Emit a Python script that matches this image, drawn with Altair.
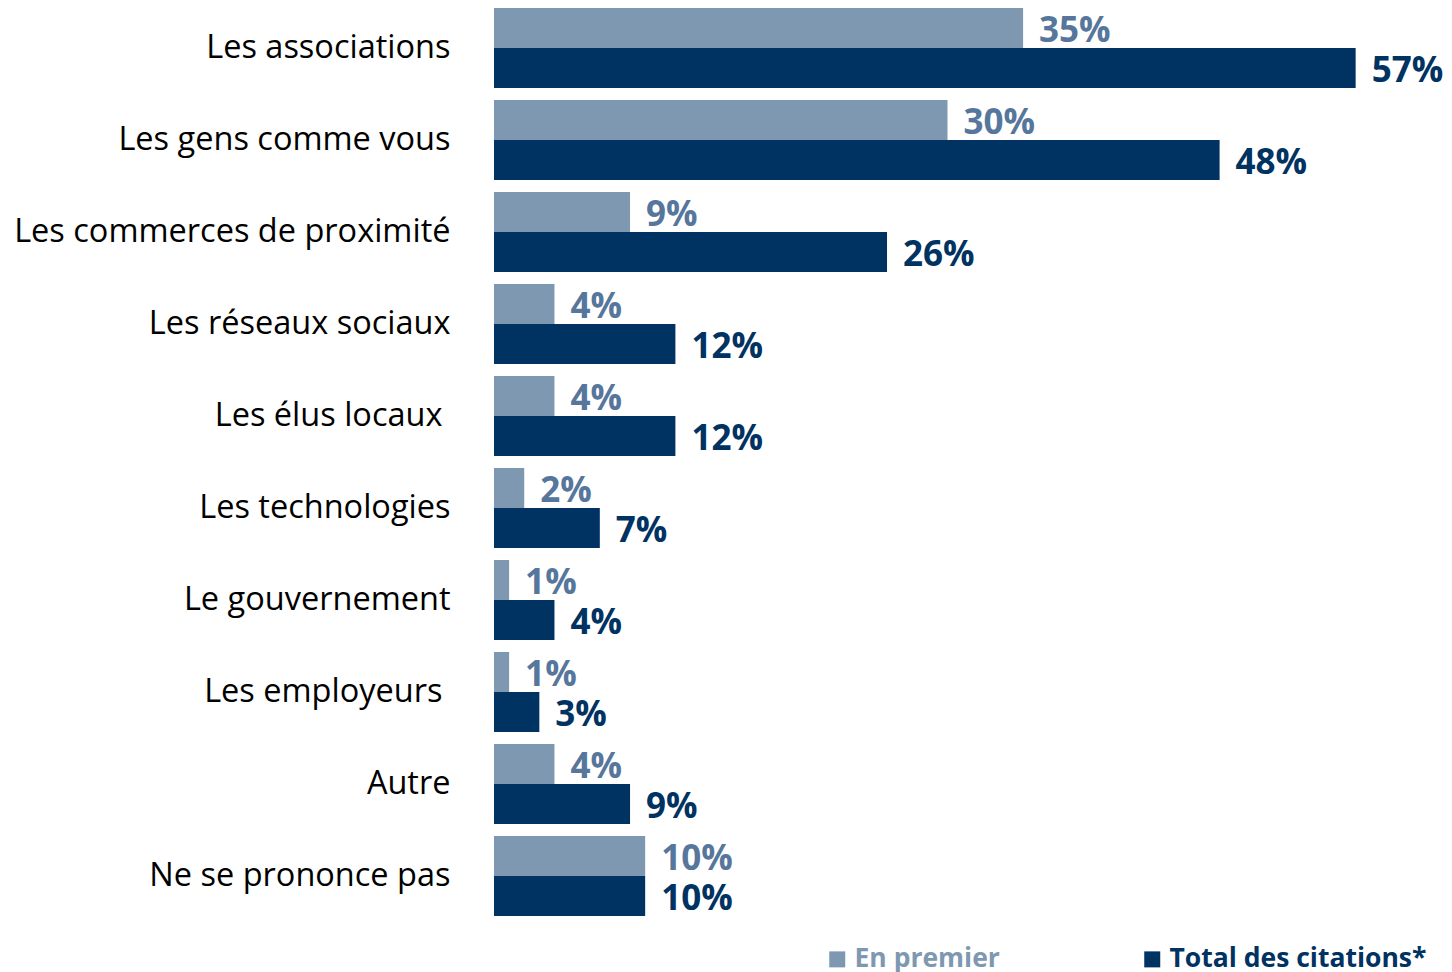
import altair as alt
import pandas as pd

categories = [
    "Les associations",
    "Les gens comme vous",
    "Les commerces de proximité",
    "Les réseaux sociaux",
    "Les élus locaux ",
    "Les technologies",
    "Le gouvernement",
    "Les employeurs ",
    "Autre",
    "Ne se prononce pas",
]
en_premier = [35, 30, 9, 4, 4, 2, 1, 1, 4, 10]
total_citations = [57, 48, 26, 12, 12, 7, 4, 3, 9, 10]
series = ["En premier", "Total des citations*"]

rows = []
for c, a, b in zip(categories, en_premier, total_citations):
    rows.append({"cat": c, "series": series[0], "value": a, "label": f"{a}%"})
    rows.append({"cat": c, "series": series[1], "value": b, "label": f"{b}%"})
df = pd.DataFrame(rows)

LIGHT = "#7f98b2"
DARK = "#003262"
LIGHT_TXT = "#56769c"
FONT = "Open Sans"

y_enc = alt.Y("cat:N", sort=categories,
              scale=alt.Scale(paddingInner=12 / 92, paddingOuter=0),
              axis=alt.Axis(title=None, domain=False, ticks=False, labelFontSize=32.5,
                            labelFont=FONT, labelColor="#000000",
                            labelPadding={"condition": {
                                "test": "substring(datum.value, length(datum.value)-1) == ' '",
                                "value": 52}, "value": 44},
                            minExtent=486, maxExtent=486, labelLimit=480))
yoff = alt.YOffset("series:N", sort=series, scale=alt.Scale(paddingInner=0, paddingOuter=0))
x_enc = alt.X("value:Q", scale=alt.Scale(domain=[0, 60]), axis=None)

bars = alt.Chart(df).mark_bar(size=40).encode(
    x=x_enc, y=y_enc, yOffset=yoff,
    color=alt.Color("series:N", sort=series,
                    scale=alt.Scale(domain=series, range=[LIGHT, DARK]),
                    legend=alt.Legend(title=None, orient="none", direction="horizontal",
                                      legendX=330, legendY=938, padding=0,
                                      symbolType="square", symbolSize=256,
                                      symbolStrokeWidth=0,
                                      labelFontSize=26.5, labelFont=FONT, labelFontWeight="bold",
                                      labelColor={"expr": f"datum.label == 'En premier' ? '{LIGHT}' : '{DARK}'"},
                                      columnPadding=139, labelLimit=400, symbolOffset=0)),
)

texts = alt.Chart(df).mark_text(align="left", baseline="middle", dx=16, dy=3,
                                fontSize=35, font=FONT, fontWeight="bold").encode(
    x=x_enc, y=alt.Y("cat:N", sort=categories), yOffset=alt.YOffset("series:N", sort=series),
    text="label:N",
    color=alt.Color("series:N", sort=series,
                    scale=alt.Scale(domain=series, range=[LIGHT_TXT, DARK]), legend=None),
)

chart = alt.layer(bars, texts).resolve_scale(color="independent").properties(
    width=907, height=908, padding={"left": 0, "top": 0, "right": 0, "bottom": 0}
).configure_view(stroke=None)

chart.save("out.html", embed_options={"renderer": "svg", "actions": False})
